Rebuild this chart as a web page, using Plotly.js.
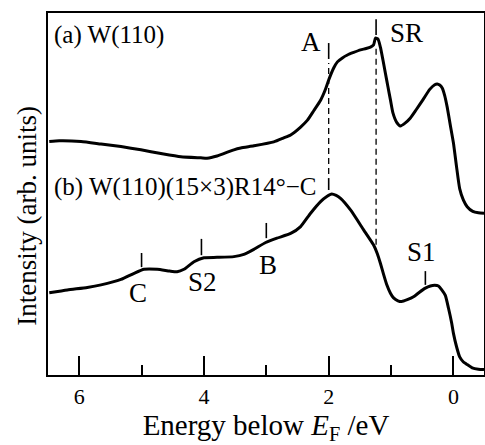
<!DOCTYPE html>
<html>
<head>
<meta charset="utf-8">
<script src="https://cdn.plot.ly/plotly-3.0.1.min.js"></script>
<style>html,body{margin:0;padding:0;background:#fff;}#chart{width:485px;height:445px;}</style>
</head>
<body>
<div id="chart"></div>
<script>
// Curve (a): W(110)
var energyA = [6.48, 6.32, 5.97, 5.65, 5.33, 5.01, 4.69, 4.37, 4.05, 3.95, 3.79, 3.52, 3.41, 3.20, 2.88, 2.72, 2.61, 2.45, 2.34, 2.24, 2.13, 2.05, 2.0, 1.92, 1.86, 1.78, 1.70, 1.60, 1.49, 1.40, 1.33, 1.28, 1.25, 1.21, 1.17, 1.13, 1.09, 1.05, 1.01, 0.97, 0.91, 0.85, 0.78, 0.69, 0.60, 0.49, 0.38, 0.30, 0.26, 0.22, 0.18, 0.14, 0.10, 0.05, 0.0, -0.05, -0.10, -0.16, -0.22, -0.31, -0.40, -0.49];
var intensityA = [64.5, 64.7, 64.5, 63.8, 63.1, 62.2, 61.2, 60.3, 60.0, 59.9, 60.5, 62.2, 62.7, 63.3, 64.4, 65.5, 66.3, 68.5, 70.4, 73.0, 75.9, 79.0, 81.5, 84.8, 86.5, 87.6, 88.4, 89.1, 89.8, 90.2, 90.6, 91.2, 93.1, 92.8, 90.5, 87.0, 83.3, 79.6, 76.0, 72.4, 69.8, 68.8, 69.5, 71.0, 73.2, 76.0, 78.9, 80.2, 80.4, 80.1, 79.3, 77.2, 74.0, 69.0, 64.1, 57.5, 51.5, 48.3, 46.5, 45.2, 44.8, 44.7];

// Curve (b): W(110)(15x3)R14°-C
var energyB = [6.48, 6.19, 5.87, 5.65, 5.33, 5.12, 4.96, 4.75, 4.55, 4.43, 4.32, 4.16, 4.0, 3.79, 3.52, 3.36, 3.20, 3.01, 2.83, 2.61, 2.45, 2.29, 2.13, 2.03, 1.95, 1.88, 1.81, 1.65, 1.44, 1.28, 1.22, 1.17, 1.12, 1.07, 1.01, 0.96, 0.89, 0.83, 0.74, 0.64, 0.55, 0.45, 0.37, 0.30, 0.24, 0.19, 0.13, 0.08, 0.03, 0.0, -0.05, -0.10, -0.16, -0.21, -0.30, -0.40, -0.49];
var intensityB = [22.7, 23.5, 24.2, 24.9, 26.4, 28.1, 29.2, 29.2, 28.7, 28.5, 29.2, 31.3, 32.4, 32.5, 32.7, 33.3, 34.7, 36.6, 37.8, 39.1, 41.0, 44.7, 47.9, 49.3, 50.0, 49.6, 48.8, 45.6, 40.1, 35.9, 33.5, 30.8, 27.8, 25.0, 22.6, 21.3, 20.5, 20.3, 20.8, 21.6, 22.8, 24.0, 24.6, 24.8, 24.6, 23.6, 22.0, 18.5, 14.5, 11.5, 7.8, 5.0, 3.6, 3.0, 2.0, 1.6, 1.5];

// Feature markers (short vertical bars)
var markX  = [2.0, 1.24, 2.0, 5.0, 4.04, 3.0, 0.45];
var markY0 = [87.3, 93.9, 51.1, 29.8, 33.1, 37.8, 24.9];
var markY1 = [91.7, 98.3, 54.4, 33.7, 37.6, 42.0, 28.7];

// Dashed guide lines
var guideX  = [2.0, 1.24];
var guideY0 = [55.5, 36.0];
var guideY1 = [86.2, 91.0];

// Feature labels
var labelText = ["A", "SR", "C", "S2", "B", "S1"];
var labelX    = [2.29, 0.76, 5.05, 4.02, 2.98, 0.52];
var labelY    = [92.0, 94.5, 22.7, 25.7, 30.4, 34.0];

// Panel labels
var panelText = ["(a) W(110)", "(b) W(110)(15×3)R14°−C"];
var panelX = [6.43, 6.43];
var panelY = [93.9, 51.9];

var yTitle = "Intensity (arb. units)";
var xTitle = "Energy below <i>E</i><sub>F</sub> /eV";

var FONT = "Liberation Serif, Times New Roman, serif";

var traces = [
  {x: energyA, y: intensityA, mode: "lines", line: {color: "#000", width: 3, shape: "spline", smoothing: 0.5}, showlegend: false, hoverinfo: "skip"},
  {x: energyB, y: intensityB, mode: "lines", line: {color: "#000", width: 3, shape: "spline", smoothing: 0.5}, showlegend: false, hoverinfo: "skip"}
];

var shapes = [];
for (var i = 0; i < guideX.length; i++) {
  shapes.push({type: "line", xref: "x", yref: "y", x0: guideX[i], x1: guideX[i], y0: guideY0[i], y1: guideY1[i], line: {color: "#000", width: 1.3, dash: "6px,4px"}});
}
for (var j = 0; j < markX.length; j++) {
  shapes.push({type: "line", xref: "x", yref: "y", x0: markX[j], x1: markX[j], y0: markY0[j], y1: markY1[j], line: {color: "#000", width: 1.6}});
}

var annotations = [];
for (var k = 0; k < labelText.length; k++) {
  annotations.push({x: labelX[k], y: labelY[k], xref: "x", yref: "y", text: labelText[k], showarrow: false, xanchor: "center", yanchor: "middle", font: {family: FONT, size: 27, color: "#000"}});
}
for (var m = 0; m < panelText.length; m++) {
  annotations.push({x: panelX[m], y: panelY[m], xref: "x", yref: "y", text: panelText[m], showarrow: false, xanchor: "left", yanchor: "middle", font: {family: FONT, size: 25, color: "#000"}});
}
annotations.push({x: -0.048, y: 0.44, xref: "paper", yref: "paper", text: yTitle, textangle: -90, showarrow: false, xanchor: "center", yanchor: "middle", font: {family: FONT, size: 27, color: "#000"}});

var layout = {
  width: 485, height: 445,
  margin: {l: 48, r: 1, t: 13, b: 70},
  paper_bgcolor: "#fff", plot_bgcolor: "#fff",
  font: {family: FONT, color: "#000"},
  xaxis: {
    range: [6.5, -0.49], dtick: 2, tick0: 0,
    ticks: "inside", ticklen: 19, tickwidth: 2, tickcolor: "#000",
    minor: {dtick: 1, ticks: "inside", ticklen: 10, tickwidth: 2, tickcolor: "#000"},
    showline: true, linewidth: 2, linecolor: "#000", mirror: true,
    showgrid: false, zeroline: false,
    tickfont: {family: FONT, size: 22, color: "#000"},
    ticklabelstandoff: 1,
    title: {text: xTitle, font: {family: FONT, size: 29, color: "#000"}, standoff: 3}
  },
  yaxis: {
    range: [0, 100], showticklabels: false, ticks: "",
    showline: true, linewidth: 2, linecolor: "#000", mirror: true,
    showgrid: false, zeroline: false
  },
  shapes: shapes,
  annotations: annotations
};

Plotly.newPlot("chart", traces, layout, {staticPlot: true, displayModeBar: false});
</script>
</body>
</html>
